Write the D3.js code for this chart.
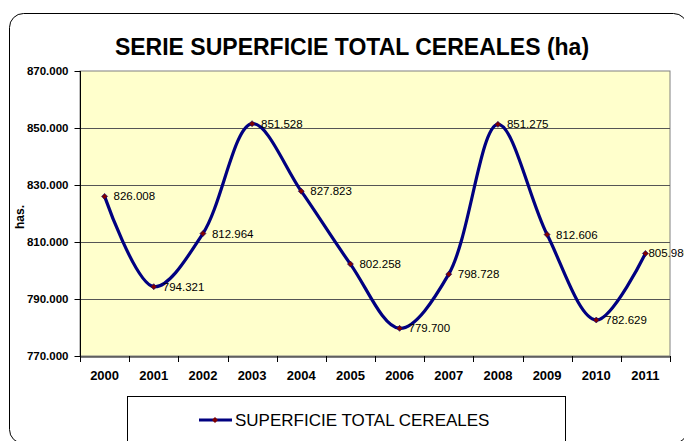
<!DOCTYPE html>
<html><head><meta charset="utf-8">
<script src="https://cdn.jsdelivr.net/npm/d3@7"></script>
<style>body{margin:0;background:#fff}svg{display:block}</style>
</head><body><svg id="c" width="684" height="441"></svg>
<script>
const years = ["2000","2001","2002","2003","2004","2005","2006","2007","2008","2009","2010","2011"];
const values = [826008, 794321, 812964, 851528, 827823, 802258, 779700, 798728, 851275, 812606, 782629, 805980];
const yTicks = [770000, 790000, 810000, 830000, 850000, 870000];
const seriesName = "SUPERFICIE TOTAL CEREALES";
const titleText = "SERIE SUPERFICIE TOTAL CEREALES (ha)";
const yLabel = "has.";

const svg = d3.select("#c");
const F = "Liberation Sans, Arial, sans-serif";
const fmt = v => d3.format(",")(v).replace(/,/g, ".");

// outer frame
svg.append("rect").attr("x", 9.5).attr("y", 13.5).attr("width", 678).attr("height", 430)
  .attr("rx", 14).attr("fill", "#fff").attr("stroke", "#000").attr("stroke-width", 1);

const L = 80, R = 670, T = 71, B = 356;
const x = d3.scaleBand().domain(years).range([L, R]);
const y = d3.scaleLinear().domain([770000, 870000]).range([B, T]);

svg.append("rect").attr("x", L).attr("y", T).attr("width", R - L).attr("height", B - T)
  .attr("fill", "#FFFFCC").attr("stroke", "#808080").attr("stroke-width", 1);

// gridlines
svg.append("g").selectAll("line").data(yTicks.slice(1, -1)).join("line")
  .attr("x1", L).attr("x2", R).attr("y1", d => Math.round(y(d)) + 0.5).attr("y2", d => Math.round(y(d)) + 0.5)
  .attr("stroke", "#555").attr("stroke-width", 1);

// y axis
const ya = svg.append("g").attr("transform", `translate(${L + 0.5},0)`)
  .call(d3.axisLeft(y).tickValues(yTicks).tickFormat(fmt).tickSize(6).tickPadding(6));
ya.select(".domain").attr("stroke", "#000").attr("d", `M0,${T}V${B}`);
ya.selectAll(".tick line").attr("stroke", "#000");
ya.selectAll("text").attr("font-family", F).attr("font-size", 11.5).attr("font-weight", "bold").attr("fill", "#000");

// x axis
const xa = svg.append("g").attr("transform", `translate(0,${B + 0.5})`)
  .call(d3.axisBottom(x).tickSize(0).tickPadding(14));
xa.select(".domain").attr("stroke", "#000");
xa.selectAll("text").attr("font-family", F).attr("font-size", 13).attr("font-weight", "bold").attr("fill", "#000");
svg.append("g").selectAll("line").data(years.map((d, i) => i).concat([years.length])).join("line")
  .attr("x1", i => Math.round(L + i * x.step()) + 0.5).attr("x2", i => Math.round(L + i * x.step()) + 0.5)
  .attr("y1", B).attr("y2", B + 6).attr("stroke", "#000");

// title
svg.append("text").attr("x", 352).attr("y", 55).attr("text-anchor", "middle")
  .attr("font-family", F).attr("font-size", 23).attr("font-weight", "bold").text(titleText);

// y label
svg.append("text").attr("transform", `translate(24,217) rotate(-90)`).attr("text-anchor", "middle")
  .attr("font-family", F).attr("font-size", 12).attr("font-weight", "bold").text(yLabel);

// line
const cx = d => x(d) + x.bandwidth() / 2;
const line = d3.line().x((d, i) => cx(years[i])).y(d => y(d)).curve(d3.curveCatmullRom.alpha(0.5));
svg.append("path").datum(values).attr("d", line).attr("fill", "none")
  .attr("stroke", "#000080").attr("stroke-width", 3.2).attr("stroke-linejoin", "round");

const diamond = (px, py, s) => `M${px},${py - s}L${px + s},${py}L${px},${py + s}L${px - s},${py}Z`;
svg.append("g").selectAll("path").data(values).join("path")
  .attr("d", (d, i) => diamond(cx(years[i]), y(d), 3))
  .attr("fill", "#800000").attr("stroke", "#000080").attr("stroke-width", 0.6);

svg.append("g").selectAll("text").data(values).join("text")
  .attr("x", (d, i) => cx(years[i]) + (i === values.length - 1 ? 3 : 9)).attr("y", d => y(d) + 4)
  .attr("font-family", F).attr("font-size", 11.5).attr("fill", "#000").text(d => fmt(d));

// legend
svg.append("rect").attr("x", 127.5).attr("y", 396.5).attr("width", 438).attr("height", 60)
  .attr("fill", "#fff").attr("stroke", "#000").attr("stroke-width", 1);
svg.append("line").attr("x1", 199).attr("x2", 232).attr("y1", 420).attr("y2", 420)
  .attr("stroke", "#000080").attr("stroke-width", 3);
svg.append("path").attr("d", diamond(215, 420, 3)).attr("fill", "#800000");
svg.append("text").attr("x", 235).attr("y", 426).attr("font-family", F).attr("font-size", 17).text(seriesName);
</script></body></html>
